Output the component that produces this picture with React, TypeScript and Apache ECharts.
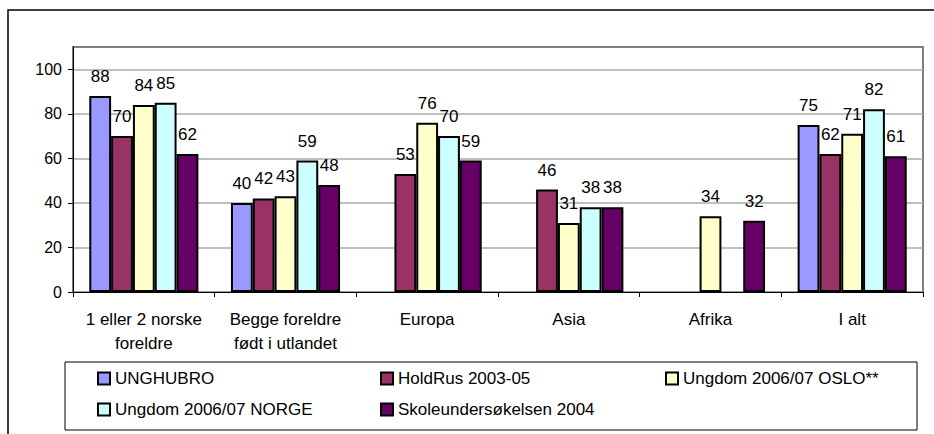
import React, { useEffect, useRef } from "react";
import * as echarts from "echarts";

const categories = [
  "1 eller 2 norske\nforeldre",
  "Begge foreldre\nfødt i utlandet",
  "Europa",
  "Asia",
  "Afrika",
  "I alt",
];

const seriesNames = [
  "UNGHUBRO",
  "HoldRus 2003-05",
  "Ungdom 2006/07 OSLO**",
  "Ungdom 2006/07 NORGE",
  "Skoleundersøkelsen 2004",
];

const unghubro = [88, 40, null, null, null, 75];
const holdRus = [70, 42, 53, 46, null, 62];
const ungdomOslo = [84, 43, 76, 31, 34, 71];
const ungdomNorge = [85, 59, 70, 38, null, 82];
const skole = [62, 48, 59, 38, 32, 61];

const seriesValues = [unghubro, holdRus, ungdomOslo, ungdomNorge, skole];
const seriesColors = ["#9999FF", "#993366", "#FFFFCC", "#CCFFFF", "#660066"];

const yTicks = [0, 20, 40, 60, 80, 100];

const FONT = "'Liberation Sans', Arial, sans-serif";

export default function App() {
  const ref = useRef<HTMLDivElement>(null);

  useEffect(() => {
    if (!ref.current) return;
    const chart = echarts.init(ref.current, null, { renderer: "svg" });

    const legendBase = {
      orient: "vertical",
      icon: "rect",
      itemWidth: 12,
      itemHeight: 12,
      itemGap: 14,
      padding: 0,
      top: 370,
      textStyle: { fontFamily: FONT, fontSize: 17, color: "#000", lineHeight: 17 },
    };

    chart.setOption({
      animation: false,
      backgroundColor: "#ffffff",
      textStyle: { fontFamily: FONT },
      graphic: [
        {
          type: "rect",
          shape: { x: 8, y: 10, width: 940, height: 440 },
          style: { fill: "none", stroke: "#000", lineWidth: 1.5 },
          silent: true,
        },
        {
          type: "rect",
          shape: { x: 65, y: 362, width: 852, height: 68 },
          style: { fill: "none", stroke: "#000", lineWidth: 1 },
          silent: true,
        },
      ],
      legend: [
        { ...legendBase, left: 97, data: [seriesNames[0], seriesNames[3]] },
        { ...legendBase, left: 380, data: [seriesNames[1], seriesNames[4]] },
        { ...legendBase, left: 665, data: [seriesNames[2]] },
      ],
      grid: {
        left: 73,
        right: 11,
        top: 47,
        bottom: 142,
        show: true,
        borderColor: "#808080",
        borderWidth: 2,
        backgroundColor: "transparent",
      },
      xAxis: {
        type: "category",
        data: categories,
        boundaryGap: true,
        axisLine: { show: true, lineStyle: { color: "#000", width: 1 } },
        axisTick: { show: true, alignWithLabel: false, length: 5, lineStyle: { color: "#000" } },
        axisLabel: {
          interval: 0,
          fontFamily: FONT,
          fontSize: 17,
          lineHeight: 24,
          color: "#000",
          margin: 15,
        },
      },
      yAxis: {
        type: "value",
        min: 0,
        max: 110,
        interval: 20,
        axisLine: { show: true, lineStyle: { color: "#000", width: 1 } },
        axisTick: { show: true, length: 5, lineStyle: { color: "#000" }, customValues: yTicks },
        axisLabel: {
          fontFamily: FONT,
          fontSize: 16,
          color: "#000",
          margin: 11,
          customValues: yTicks,
          formatter: (v: number) => (v > 100 ? "" : String(v)),
        },
        splitLine: { show: true, lineStyle: { color: "#aaaaaa", width: 1.5 } },
      },
      series: seriesNames.map((name, i) => ({
        name,
        type: "bar",
        data: seriesValues[i],
        barGap: "0%",
        barCategoryGap: "23%",
        itemStyle: { color: seriesColors[i], borderColor: "#000", borderWidth: 2 },
        label: {
          show: true,
          position: "top",
          distance: 11,
          fontFamily: FONT,
          fontSize: 17,
          color: "#000",
        },
      })),
    });

    return () => chart.dispose();
  }, []);

  return (
    <div
      ref={ref}
      style={{ position: "absolute", left: 0, top: 0, width: 934, height: 434 }}
    />
  );
}
